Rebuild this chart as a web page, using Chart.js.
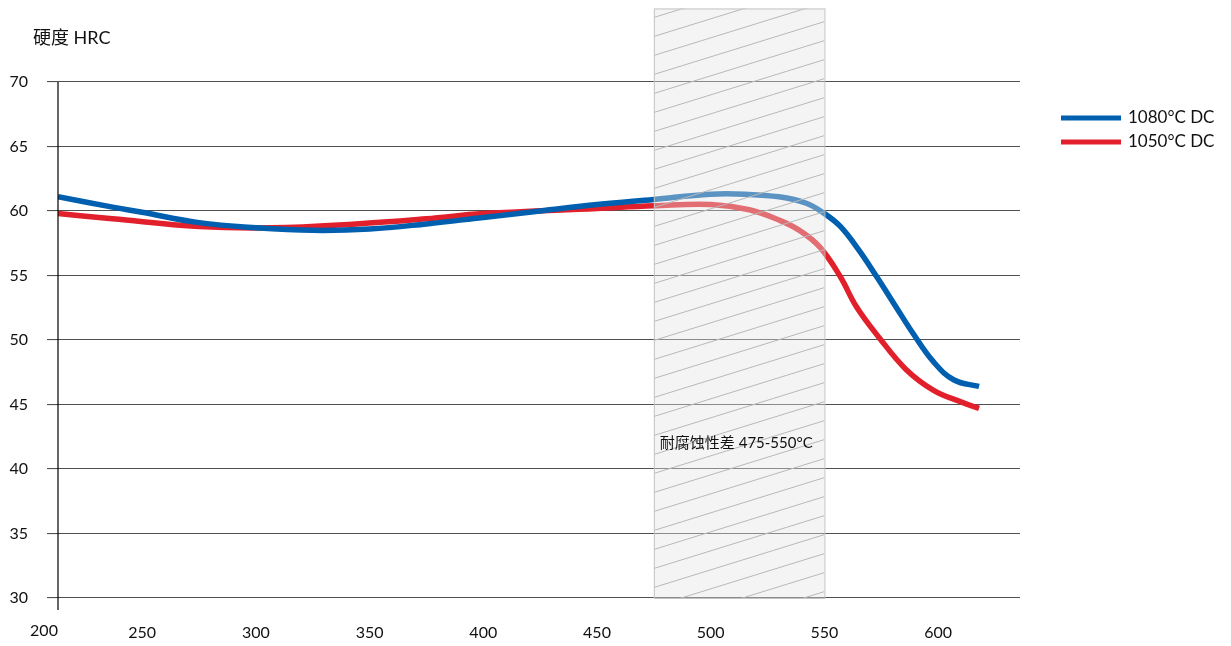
<!DOCTYPE html>
<html>
<head>
<meta charset="utf-8">
<script src="https://cdn.jsdelivr.net/npm/chart.js@4/dist/chart.umd.min.js"></script>
<style>
  html, body { margin: 0; padding: 0; background: #fff; }
  #wrap { width: 1231px; height: 646px; position: relative; }
</style>
</head>
<body>
<div id="wrap"><canvas id="hrc-chart"></canvas></div>
<script>
// Hardness vs tempering temperature
const temps1080 = [213, 237, 250, 275, 300, 325, 350, 375, 400, 425, 450, 475, 500, 515, 530, 542, 550, 557, 565, 573, 581, 589, 598, 607, 618];
const hrc1080   = [61.1, 60.3, 59.9, 59.1, 58.7, 58.5, 58.6, 59.0, 59.5, 60.0, 60.5, 60.9, 61.3, 61.3, 61.1, 60.6, 59.8, 58.8, 57.0, 54.9, 52.7, 50.5, 48.3, 46.9, 46.4];

const temps1050 = [213, 237, 275, 307, 344, 375, 400, 450, 475, 500, 517, 530, 539, 548, 557, 564, 574, 586, 598, 610, 618];
const hrc1050   = [59.8, 59.4, 58.8, 58.7, 59.0, 59.4, 59.8, 60.2, 60.4, 60.5, 60.1, 59.3, 58.5, 57.2, 54.9, 52.6, 50.2, 47.7, 46.1, 45.2, 44.7];

const seriesLabels = ['1080°C DC', '1050°C DC'];
const xTicks = [200, 250, 300, 350, 400, 450, 500, 550, 600];
const yTicks = [30, 35, 40, 45, 50, 55, 60, 65, 70];

const xMin = 213, xMax = 636;
const bandFrom = 475, bandTo = 550, bandTop = 75.7;
const bandText = '耐腐蚀性差 475-550°C';
const yTitle = '硬度 HRC';

const FONT = 'Lato, "Noto Sans CJK SC", sans-serif';
const BLUE = '#005fae';
const RED = '#e2202b';

const toPoints = (xs, ys) => xs.map((x, i) => ({ x, y: ys[i] }));

// hatched band + extra labels + legend
const decorations = {
  id: 'decorations',
  afterDatasetsDraw(chart) {
    const { ctx, chartArea, scales: { x, y } } = chart;
    const x0 = x.getPixelForValue(bandFrom);
    const x1 = x.getPixelForValue(bandTo);
    const y0 = y.getPixelForValue(bandTop);
    const y1 = chartArea.bottom;

    ctx.save();
    ctx.fillStyle = 'rgba(228,228,228,0.4)';
    ctx.fillRect(x0, y0, x1 - x0, y1 - y0);

    ctx.beginPath();
    ctx.rect(x0, y0, x1 - x0, y1 - y0);
    ctx.clip();
    ctx.strokeStyle = '#b8b8b8';
    ctx.lineWidth = 1;
    const w = x1 - x0;
    const slope = 0.31;
    for (let yy = y0 - 10; yy < y1 + w * slope + 20; yy += 19) {
      ctx.beginPath();
      ctx.moveTo(x0, yy);
      ctx.lineTo(x1, yy - w * slope);
      ctx.stroke();
    }
    ctx.restore();

    ctx.save();
    ctx.strokeStyle = '#c4c4c4';
    ctx.lineWidth = 1;
    ctx.strokeRect(x0 + 0.5, y0 + 0.5, x1 - x0, y1 - y0);
    ctx.restore();
  },
  afterDraw(chart) {
    const { ctx, chartArea, scales: { x, y } } = chart;
    ctx.save();
    // y axis line, extended below
    ctx.strokeStyle = '#000';
    ctx.lineWidth = 1.2;
    ctx.beginPath();
    ctx.moveTo(chartArea.left, chartArea.top);
    ctx.lineTo(chartArea.left, chartArea.bottom + 12);
    ctx.stroke();

    ctx.fillStyle = '#111';
    ctx.font = '16px ' + FONT;
    ctx.textBaseline = 'middle';
    ctx.textAlign = 'center';
    ctx.fillText(String(xTicks[0]), chartArea.left - 14, 631);

    ctx.textAlign = 'left';
    ctx.font = '18px ' + FONT;
    ctx.fillText(yTitle, 33, 38);

    ctx.font = '15px ' + FONT;
    ctx.fillText(bandText, x.getPixelForValue(bandFrom) + 6, y.getPixelForValue(42.0));

    // legend
    chart.data.datasets.forEach((ds, i) => {
      const ly = 118 + i * 24;
      ctx.strokeStyle = ds.borderColor;
      ctx.lineWidth = 5;
      ctx.beginPath();
      ctx.moveTo(1061, ly);
      ctx.lineTo(1121, ly);
      ctx.stroke();
      ctx.fillStyle = '#111';
      ctx.font = '17px ' + FONT;
      ctx.fillText(ds.label, 1128, ly);
    });
    ctx.restore();
  }
};

new Chart(document.getElementById('hrc-chart'), {
  type: 'line',
  data: {
    datasets: [
      {
        label: seriesLabels[0],
        data: toPoints(temps1080, hrc1080),
        borderColor: BLUE,
        borderWidth: 5.5,
        pointRadius: 0,
        tension: 0.4,
        fill: false
      },
      {
        label: seriesLabels[1],
        data: toPoints(temps1050, hrc1050),
        borderColor: RED,
        borderWidth: 5.5,
        pointRadius: 0,
        tension: 0.4,
        fill: false
      }
    ]
  },
  options: {
    responsive: true,
    maintainAspectRatio: false,
    animation: false,
    layout: { padding: { top: 82, right: 211, left: 0, bottom: 0 } },
    plugins: {
      legend: { display: false },
      tooltip: { enabled: false }
    },
    scales: {
      x: {
        type: 'linear',
        min: xMin,
        max: xMax,
        afterBuildTicks: s => { s.ticks = xTicks.filter(v => v >= xMin).map(v => ({ value: v })); },
        afterFit: s => { s.height = 48; },
        grid: { display: false, drawTicks: false },
        border: { display: false },
        ticks: {
          padding: 25,
          color: '#111',
          font: { family: FONT, size: 16 },
          maxRotation: 0,
          autoSkip: false
        }
      },
      y: {
        min: 30,
        max: 70,
        z: 1,
        afterBuildTicks: s => { s.ticks = yTicks.map(v => ({ value: v })); },
        afterFit: s => { s.width = 58; },
        grid: { color: '#505050', lineWidth: 1.1, tickLength: 11 },
        border: { display: false },
        ticks: {
          padding: 19,
          color: '#111',
          font: { family: FONT, size: 16 }
        }
      }
    }
  },
  plugins: [decorations]
});
</script>
</body>
</html>
